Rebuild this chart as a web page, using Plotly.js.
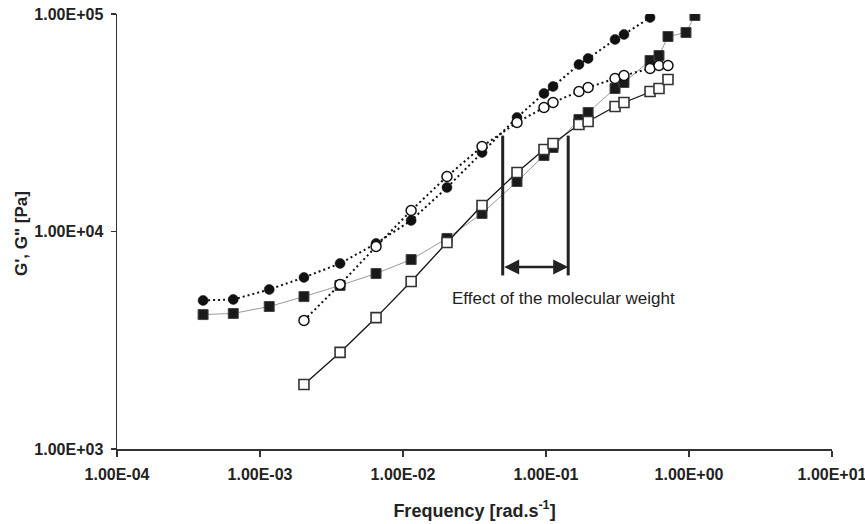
<!DOCTYPE html>
<html>
<head>
<meta charset="utf-8">
<script src="https://cdn.plot.ly/plotly-3.0.1.min.js"></script>
<style>
  html, body { margin: 0; padding: 0; background: #fff; }
  #chart { width: 865px; height: 524px; }
</style>
</head>
<body>
<div id="chart"></div>
<script>
// ---- Data ----
const freqFilledCircle = [4.0e-4, 6.5e-4, 1.16e-3, 2.03e-3, 3.63e-3, 6.48e-3, 0.0114, 0.0203, 0.0357, 0.0627, 0.0968, 0.112, 0.170, 0.197, 0.304, 0.351, 0.534];
const gFilledCircle    = [4820, 4870, 5410, 6150, 7130, 8810, 11240, 15930, 23080, 33430, 43100, 46420, 58600, 62450, 76340, 80500, 96360];

const freqOpenCircle = [2.03e-3, 3.63e-3, 6.48e-3, 0.0114, 0.0203, 0.0357, 0.0627, 0.0968, 0.112, 0.170, 0.197, 0.304, 0.351, 0.534, 0.617, 0.713];
const gOpenCircle    = [3900, 5710, 8530, 12490, 17900, 24590, 31710, 37160, 39180, 44030, 45930, 50500, 52140, 56150, 57960, 57960];

const freqFilledSquare = [4.0e-4, 6.5e-4, 1.16e-3, 2.03e-3, 3.63e-3, 6.48e-3, 0.0114, 0.0203, 0.0357, 0.0627, 0.0968, 0.112, 0.170, 0.197, 0.304, 0.351, 0.534, 0.617, 0.713, 0.953, 1.10];
const gFilledSquare    = [4150, 4200, 4520, 5020, 5650, 6410, 7430, 9290, 12100, 16980, 22360, 24330, 32730, 35260, 45450, 48430, 61130, 64450, 78790, 82200, 98420];

const freqOpenSquare = [2.03e-3, 3.63e-3, 6.48e-3, 0.0114, 0.0203, 0.0357, 0.0627, 0.0968, 0.112, 0.170, 0.197, 0.304, 0.351, 0.534, 0.617, 0.713];
const gOpenSquare    = [1980, 2780, 4020, 5890, 8900, 13170, 18680, 23820, 25390, 31040, 32050, 37560, 39180, 44030, 45450, 49990];

// tick labels
const xTickVals = [1e-4, 1e-3, 1e-2, 1e-1, 1e0, 1e1];
const xTickText = ['1.00E-04', '1.00E-03', '1.00E-02', '1.00E-01', '1.00E+00', '1.00E+01'];
const yTickVals = [1e3, 1e4, 1e5];
const yTickText = ['1.00E+03', '1.00E+04', '1.00E+05'];

// titles
const xTitle = 'Frequency [rad.s<sup>-1</sup>]';
const yTitle = 'G\', G" [Pa]';

// annotation (molecular weight bracket)
const bracketFreq = [0.0498, 0.143];
const bracketG = [6280, 27600];
const arrowG = 6860;
const noteText = 'Effect of the molecular weight';
const noteFreq = 0.1315;
const noteG = 4920;

const FONT = 'Liberation Sans, Arial, Helvetica, sans-serif';

const traces = [
  {
    x: freqFilledSquare, y: gFilledSquare, type: 'scatter', mode: 'lines+markers',
    line: { color: '#9a9a9a', width: 1 },
    marker: { symbol: 'square', size: 10, color: '#1a1a1a', line: { color: '#444', width: 1 } }
  },
  {
    x: freqFilledCircle, y: gFilledCircle, type: 'scatter', mode: 'lines+markers',
    line: { color: '#111', width: 2, dash: '2px,3px' },
    marker: { symbol: 'circle', size: 10, color: '#111', line: { color: '#111', width: 0.5 } }
  },
  {
    x: freqOpenCircle, y: gOpenCircle, type: 'scatter', mode: 'lines+markers',
    line: { color: '#111', width: 2, dash: '2px,3px' },
    marker: { symbol: 'circle', size: 10, color: '#fff', line: { color: '#111', width: 1.5 } }
  },
  {
    x: freqOpenSquare, y: gOpenSquare, type: 'scatter', mode: 'lines+markers',
    line: { color: '#111', width: 1.3 },
    marker: { symbol: 'square', size: 10, color: '#fff', line: { color: '#333', width: 1.6 } }
  },
  // bracket vertical lines
  {
    x: [bracketFreq[0], bracketFreq[0]], y: bracketG, type: 'scatter', mode: 'lines',
    line: { color: '#222', width: 3 }
  },
  {
    x: [bracketFreq[1], bracketFreq[1]], y: bracketG, type: 'scatter', mode: 'lines',
    line: { color: '#222', width: 3 }
  }
];

const layout = {
  width: 865, height: 524,
  margin: { l: 117, r: 33, t: 14, b: 75, pad: 0 },
  paper_bgcolor: '#fff', plot_bgcolor: '#fff',
  showlegend: false,
  font: { family: FONT, color: '#222' },
  xaxis: {
    type: 'log', range: [-4, 1],
    tickvals: xTickVals, ticktext: xTickText,
    ticks: 'outside', ticklen: 6, tickwidth: 1.2, tickcolor: '#333',
    showline: true, linecolor: '#333', linewidth: 1.5,
    showgrid: false, zeroline: false,
    tickfont: { family: FONT, size: 16, color: '#222', weight: 'bold' },
    ticklabelstandoff: 4,
    ticklabeloverflow: 'allow',
    title: { text: xTitle, font: { family: FONT, size: 18, color: '#222', weight: 'bold' }, standoff: 22 }
  },
  yaxis: {
    type: 'log', range: [3, 5],
    tickvals: yTickVals, ticktext: yTickText,
    ticks: 'outside', ticklen: 5, tickwidth: 1.2, tickcolor: '#333',
    showline: true, linecolor: '#333', linewidth: 1.5,
    showgrid: false, zeroline: false,
    tickfont: { family: FONT, size: 16, color: '#222', weight: 'bold' },
    ticklabelstandoff: 4,
    ticklabeloverflow: 'allow'
  },
  annotations: [
    {
      xref: 'paper', yref: 'paper', x: -0.1329, y: 0.4966,
      text: yTitle, showarrow: false, textangle: -90,
      font: { family: FONT, size: 17, color: '#222', weight: 'bold' },
      xanchor: 'center', yanchor: 'middle'
    },
    {
      xref: 'x', yref: 'y', axref: 'x', ayref: 'y',
      x: Math.log10(bracketFreq[1]), y: Math.log10(arrowG),
      ax: Math.log10(bracketFreq[0]), ay: Math.log10(arrowG),
      showarrow: true, arrowside: 'end+start', arrowhead: 2, arrowsize: 1.2, arrowwidth: 2.5,
      arrowcolor: '#222', text: '', standoff: 0, startstandoff: 0
    },
    {
      xref: 'x', yref: 'y',
      x: Math.log10(noteFreq), y: Math.log10(noteG),
      text: noteText, showarrow: false,
      font: { family: FONT, size: 17, color: '#222' },
      xanchor: 'center', yanchor: 'middle'
    }
  ]
};

Plotly.newPlot('chart', traces, layout, { displayModeBar: false, staticPlot: true });
</script>
</body>
</html>
